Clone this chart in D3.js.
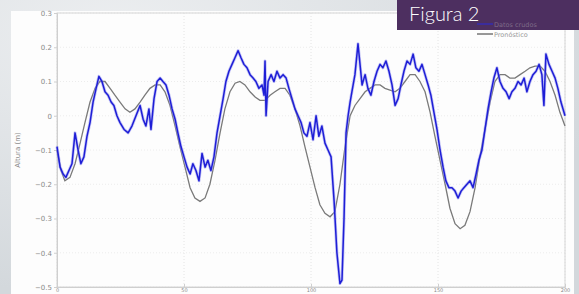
<!DOCTYPE html>
<html>
<head>
<meta charset="utf-8">
<script src="https://cdn.jsdelivr.net/npm/d3@7"></script>
<style>
  html, body { margin: 0; padding: 0; background: #dfe2e5; }
  svg { display: block; }
</style>
</head>
<body>
<svg id="canvas" width="579" height="294"></svg>
<script>
// raw data (Datos crudos)
var rawX = [0,1.2,2.4,3.5,4.7,5.9,7.1,8.3,9.4,10.6,11.8,13.0,14.2,15.4,16.5,17.7,18.9,20.1,21.3,22.4,
  23.6,24.8,26.4,28.0,29.5,31.1,32.7,33.9,35.0,36.2,37.0,38.2,39.4,40.6,41.7,42.9,44.1,45.3,46.5,47.6,
  48.8,50.0,51.2,52.4,53.5,54.7,55.9,57.1,58.3,59.4,60.6,61.8,63.0,64.2,65.4,66.5,67.7,68.9,70.1,71.3,
  72.4,73.6,74.8,76.0,77.2,78.3,79.5,80.7,81.5,81.9,82.3,83.1,84.3,85.4,86.6,87.8,89.0,90.2,91.3,92.5,
  93.7,94.9,96.1,97.2,98.4,99.6,100.8,102.0,103.1,104.3,105.5,106.7,107.9,109.1,110.2,111.4,112.2,113.0,113.8,114.6,
  115.4,116.1,117.3,118.5,119.3,120.1,121.3,122.4,123.6,124.8,126.0,127.2,128.3,129.5,130.7,131.9,133.1,134.3,135.4,136.6,
  137.8,139.0,140.2,141.3,142.5,143.7,144.9,146.1,147.2,148.4,149.6,150.8,152.0,153.1,154.3,155.5,156.7,157.9,159.1,160.2,
  161.4,162.6,163.8,165.0,166.1,167.3,168.5,169.7,170.9,172.0,173.2,174.4,175.6,176.8,178.0,179.1,180.3,181.5,182.7,183.9,
  185.0,186.2,187.4,188.6,189.8,190.9,191.7,192.5,193.7,194.9,196.1,197.2,198.4,200];
var rawY = [-0.09,-0.15,-0.17,-0.18,-0.16,-0.14,-0.05,-0.10,-0.14,-0.12,-0.06,-0.02,0.04,0.08,0.115,0.10,0.07,0.06,0.04,0.03,
  0.00,-0.02,-0.04,-0.05,-0.03,0.00,0.03,-0.01,-0.03,0.02,-0.04,0.05,0.10,0.11,0.10,0.09,0.06,0.02,-0.01,-0.05,
  -0.09,-0.12,-0.15,-0.17,-0.14,-0.16,-0.19,-0.11,-0.15,-0.13,-0.16,-0.12,-0.05,0.00,0.05,0.10,0.13,0.15,0.17,0.19,
  0.17,0.15,0.14,0.12,0.11,0.10,0.08,0.09,0.06,0.16,0.00,0.10,0.12,0.10,0.13,0.11,0.12,0.11,0.08,0.05,
  0.02,0.00,-0.02,-0.05,-0.06,-0.02,-0.07,0.00,-0.06,-0.03,-0.08,-0.10,-0.12,-0.25,-0.40,-0.49,-0.48,-0.30,-0.05,0.00,
  0.04,0.07,0.12,0.21,0.15,0.09,0.12,0.08,0.06,0.10,0.13,0.15,0.14,0.16,0.13,0.09,0.03,0.05,0.09,0.13,
  0.16,0.15,0.18,0.14,0.13,0.15,0.12,0.09,0.06,0.01,-0.04,-0.10,-0.15,-0.19,-0.21,-0.21,-0.22,-0.24,-0.22,-0.21,
  -0.20,-0.19,-0.21,-0.17,-0.13,-0.10,-0.04,0.02,0.07,0.11,0.14,0.10,0.08,0.07,0.05,0.07,0.08,0.10,0.09,0.11,
  0.07,0.10,0.12,0.13,0.15,0.12,0.03,0.18,0.15,0.13,0.11,0.08,0.04,0.00];

// forecast (Pronóstico)
var fcX = [0,1.6,3.1,5.1,7.1,9.1,11.0,13.0,15.0,16.9,18.9,20.9,22.8,24.8,26.8,28.7,30.7,32.7,34.6,36.6,
  38.6,40.6,42.5,44.5,46.5,48.4,50.4,52.4,54.3,56.3,58.3,60.2,62.2,64.2,66.1,68.1,70.1,72.0,74.0,76.0,
  78.0,79.9,81.9,83.9,85.8,87.8,89.8,91.7,93.7,95.7,97.6,99.6,101.6,103.5,105.5,107.5,109.4,111.4,113.4,115.4,
  117.3,119.3,121.3,123.2,125.2,127.2,129.1,131.1,133.1,135.0,137.0,139.0,141.0,142.9,144.9,146.9,148.8,150.8,152.8,154.7,
  156.7,158.7,160.6,162.6,164.6,166.5,168.5,170.5,172.4,174.4,176.4,178.3,180.3,182.3,184.3,186.2,188.2,190.2,192.1,194.1,
  196.1,198.0,200];
var fcY = [-0.10,-0.16,-0.19,-0.18,-0.14,-0.08,-0.02,0.04,0.08,0.10,0.10,0.08,0.06,0.04,0.02,0.01,0.02,0.04,0.06,0.08,
  0.09,0.09,0.07,0.03,-0.03,-0.09,-0.15,-0.21,-0.24,-0.25,-0.24,-0.20,-0.13,-0.05,0.02,0.07,0.095,0.10,0.09,0.07,
  0.055,0.045,0.045,0.06,0.07,0.08,0.08,0.06,0.02,-0.03,-0.09,-0.15,-0.21,-0.26,-0.285,-0.295,-0.28,-0.20,-0.09,0.00,
  0.03,0.05,0.07,0.08,0.09,0.09,0.08,0.075,0.07,0.08,0.10,0.12,0.12,0.10,0.07,0.01,-0.06,-0.13,-0.20,-0.27,
  -0.315,-0.33,-0.32,-0.28,-0.21,-0.12,-0.04,0.04,0.10,0.12,0.12,0.11,0.11,0.12,0.13,0.14,0.145,0.145,0.13,0.10,
  0.06,0.01,-0.03];

var yTicks = [0.3, 0.2, 0.1, 0, -0.1, -0.2, -0.3, -0.4, -0.5];
var xTicks = [0, 50, 100, 150, 200];
var legendNames = ["Datos crudos", "Pronóstico"];

var svg = d3.select("#canvas");

// marbled backdrop, roughly
var defs = svg.append("defs");
var g1 = defs.append("radialGradient").attr("id", "marb").attr("cx", "20%").attr("cy", "10%").attr("r", "90%");
g1.append("stop").attr("offset", "0%").attr("stop-color", "#eceef0");
g1.append("stop").attr("offset", "100%").attr("stop-color", "#d3d8dc");
svg.append("rect").attr("width", 579).attr("height", 294).attr("fill", "url(#marb)");

// white plot panel
svg.append("rect").attr("x", 11).attr("y", 11).attr("width", 563).attr("height", 290).attr("fill", "#fdfdfd");

var x = d3.scaleLinear().domain([0, 200]).range([57, 565]);
var y = d3.scaleLinear().domain([-0.5, 0.3]).range([287, 13]);

// grid
svg.append("g").selectAll("line").data(xTicks).enter().append("line")
    .attr("x1", function(d) { return x(d); }).attr("x2", function(d) { return x(d); })
    .attr("y1", 13).attr("y2", 287)
    .attr("stroke", "#e4e4e4").attr("stroke-width", 1).attr("stroke-dasharray", "1,2");
svg.append("g").selectAll("line").data(yTicks).enter().append("line")
    .attr("x1", 57).attr("x2", 565)
    .attr("y1", function(d) { return y(d); }).attr("y2", function(d) { return y(d); })
    .attr("stroke", "#ececec").attr("stroke-width", 1).attr("stroke-dasharray", "1,2");

// frame
svg.append("rect").attr("x", 57).attr("y", 13).attr("width", 508).attr("height", 274)
    .attr("fill", "none").attr("stroke", "#d6d6d6").attr("stroke-width", 1);

var yAxis = d3.axisLeft(y).tickValues(yTicks).tickSize(3)
    .tickFormat(function(d) { return d === 0 ? "0" : d3.format(".1f")(d); });
var ya = svg.append("g").attr("transform", "translate(57,0)").call(yAxis);
ya.select(".domain").attr("stroke", "#cfcfcf");
ya.selectAll(".tick line").attr("stroke", "#cfcfcf");
ya.selectAll("text").attr("fill", "#8a8a8a").attr("font-size", 7).attr("font-family", "DejaVu Sans").attr("x", -5);

// x labels squeezed into the last few pixels at the bottom
var xAxis = d3.axisBottom(x).tickValues(xTicks).tickSize(-3).tickFormat(d3.format("d"));
var xa = svg.append("g").attr("transform", "translate(0,287)").call(xAxis);
xa.select(".domain").attr("stroke", "#cfcfcf");
xa.selectAll(".tick line").attr("stroke", "#cfcfcf");
xa.selectAll("text").attr("fill", "#8a8a8a").attr("font-size", 5).attr("font-family", "DejaVu Sans")
    .attr("y", 1.5).attr("dy", "0.71em");

svg.append("text")
    .attr("transform", "translate(20,150) rotate(-90)")
    .attr("text-anchor", "middle")
    .attr("fill", "#8a8a8a").attr("font-size", 7).attr("font-family", "DejaVu Sans")
    .text("Altura (m)");

var raw = rawX.map(function(d, i) { return [d, rawY[i]]; });
var fc = fcX.map(function(d, i) { return [d, fcY[i]]; });
var line = d3.line().x(function(d) { return x(d[0]); }).y(function(d) { return y(d[1]); });

svg.append("path").datum(fc).attr("d", line)
    .attr("fill", "none").attr("stroke", "#7a7a7a").attr("stroke-width", 1.3);

// blue halo + core
svg.append("path").datum(raw).attr("d", line)
    .attr("fill", "none").attr("stroke", "#8a8af0").attr("stroke-width", 3).attr("opacity", 0.5)
    .attr("stroke-linejoin", "round");
svg.append("path").datum(raw).attr("d", line)
    .attr("fill", "none").attr("stroke", "#1e1ed6").attr("stroke-width", 1.5)
    .attr("stroke-linejoin", "round");

// banner
svg.append("rect").attr("x", 397).attr("y", 0).attr("width", 182).attr("height", 30).attr("fill", "#4d2f60");
svg.append("text").attr("x", 409).attr("y", 21)
    .attr("fill", "#ffffff").attr("font-size", 20).attr("font-family", "Lato").attr("font-weight", 300)
    .text("Figura 2");

// legend
var legColors = ["#2a2ad8", "#333333"];
var leg = svg.append("g").selectAll("g").data(legendNames).enter().append("g")
    .attr("transform", function(d, i) { return "translate(477," + (24 + i * 10) + ")"; });
leg.append("line").attr("x1", 0).attr("x2", 16).attr("y1", 0).attr("y2", 0)
    .attr("stroke", function(d, i) { return legColors[i]; }).attr("stroke-width", 1);
leg.append("text").attr("x", 17).attr("y", 2.5)
    .attr("fill", function(d, i) { return i === 0 ? "#7d6a88" : "#9a9a9a"; })
    .attr("font-size", 6.5).attr("font-family", "DejaVu Sans")
    .text(function(d) { return d; });
</script>
</body>
</html>
